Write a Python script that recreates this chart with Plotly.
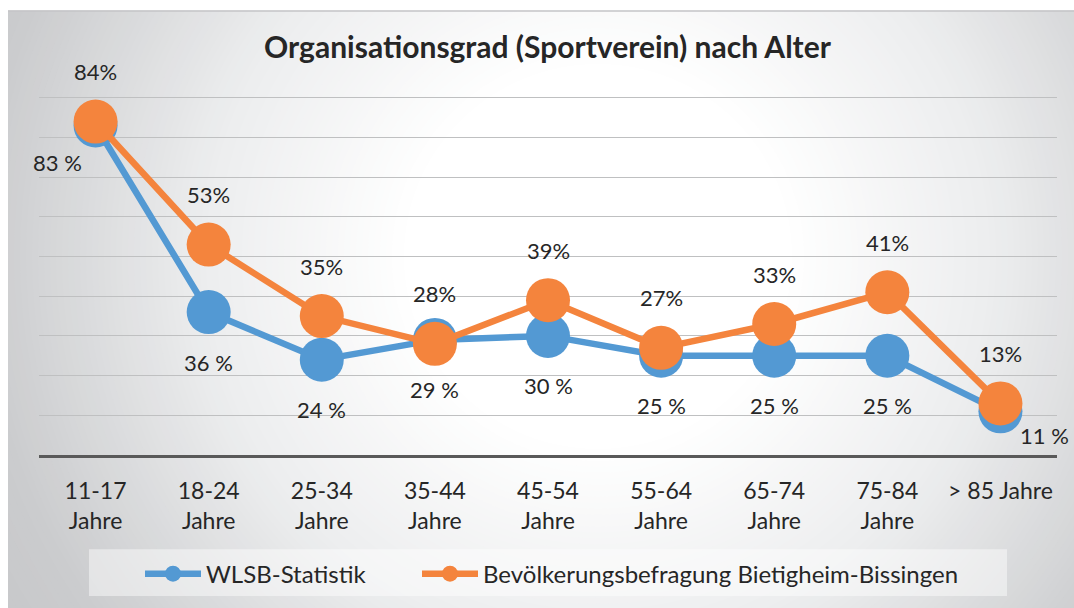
import plotly.graph_objects as go

# ---- data ----
categories = ["11-17<br>Jahre", "18-24<br>Jahre", "25-34<br>Jahre", "35-44<br>Jahre",
              "45-54<br>Jahre", "55-64<br>Jahre", "65-74<br>Jahre", "75-84<br>Jahre",
              "> 85 Jahre"]
wlsb = [83, 36, 24, 29, 30, 25, 25, 25, 11]
befragung = [84, 53, 35, 28, 39, 27, 33, 41, 13]
wlsb_labels = ["83 %", "36 %", "24 %", "29 %", "30 %", "25 %", "25 %", "25 %", "11 %"]
befragung_labels = ["84%", "53%", "35%", "28%", "39%", "27%", "33%", "41%", "13%"]
series_names = ["WLSB-Statistik", "Bevölkerungsbefragung Bietigheim-Bissingen"]
title_text = "Organisationsgrad (Sportverein) nach Alter"

BLUE = "#5399D3"
ORANGE = "#F4843D"
TXT = "#262626"
FONT = "Lato"

# figure fills the whole window (body margin removed via post_script)
W, H = 1074, 608
ML, MR, MT, MB = 39, 17, 62, 150
PW = W - ML - MR
PH = H - MT - MB


def px2paper_x(px):
    return (px - ML) / PW


def px2paper_y(py):
    return (H - MB - py) / PH


# radial-gradient background built from concentric circles
CX, CY = 598, 258
stops = [(0, (255, 255, 255)), (190, (255, 255, 255)), (400, (236, 237, 238)),
         (620, (203, 204, 206)), (800, (194, 195, 197))]


def col_at(r):
    for (r0, c0), (r1, c1) in zip(stops[:-1], stops[1:]):
        if r0 <= r <= r1:
            t = (r - r0) / (r1 - r0) if r1 > r0 else 0
            return "rgb(%d,%d,%d)" % tuple(round(a + (b - a) * t) for a, b in zip(c0, c1))
    return "rgb(%d,%d,%d)" % stops[-1][1]


bg_shapes = []
r = 800
while r >= 190:
    bg_shapes.append(dict(type="circle", xref="paper", yref="paper",
                          x0=px2paper_x(CX - r), x1=px2paper_x(CX + r),
                          y0=px2paper_y(CY + r), y1=px2paper_y(CY - r),
                          fillcolor=col_at(r), line=dict(width=0), layer="below"))
    r -= 6
# white strips left/top of the frame + thin top border
bg_shapes.append(dict(type="rect", xref="paper", yref="paper",
                      x0=px2paper_x(-5), x1=px2paper_x(W + 5), y0=px2paper_y(10), y1=px2paper_y(-5),
                      fillcolor="white", line=dict(width=0), layer="below"))
bg_shapes.append(dict(type="rect", xref="paper", yref="paper",
                      x0=px2paper_x(-5), x1=px2paper_x(8), y0=px2paper_y(H + 5), y1=px2paper_y(-5),
                      fillcolor="white", line=dict(width=0), layer="below"))
bg_shapes.append(dict(type="line", xref="paper", yref="paper",
                      x0=px2paper_x(8), x1=px2paper_x(W + 5), y0=px2paper_y(10.7), y1=px2paper_y(10.7),
                      line=dict(width=1.5, color="#c4c5c7"), layer="below"))
# legend box
bg_shapes.append(dict(type="rect", xref="paper", yref="paper",
                      x0=px2paper_x(89), x1=px2paper_x(1007), y0=px2paper_y(600), y1=px2paper_y(553),
                      fillcolor="rgba(255,255,255,0.45)", line=dict(width=0), layer="below"))

fig = go.Figure()
fig.add_trace(go.Scatter(
    x=categories, y=wlsb, name=series_names[0], mode="lines+markers",
    line=dict(color=BLUE, width=6.5), marker=dict(color=BLUE, size=44),
    hoverinfo="skip", legend="legend"))
fig.add_trace(go.Scatter(
    x=categories, y=befragung, name=series_names[1], mode="lines+markers",
    line=dict(color=ORANGE, width=6.5), marker=dict(color=ORANGE, size=44),
    hoverinfo="skip", legend="legend2"))

annotations = []
for i, c in enumerate(categories):
    annotations.append(dict(x=c, y=befragung[i], xref="x", yref="y", text=befragung_labels[i],
                            showarrow=False, yshift=50, font=dict(family=FONT, size=22, color=TXT)))
    xs, ys = 0, -50
    if i == 0:
        xs, ys = -38, -37
    elif i == len(categories) - 1:
        xs, ys = 44, -24
    annotations.append(dict(x=c, y=wlsb[i], xref="x", yref="y", text=wlsb_labels[i],
                            showarrow=False, xshift=xs, yshift=ys,
                            font=dict(family=FONT, size=22, color=TXT)))

legend_common = dict(orientation="h", xanchor="left", yanchor="middle",
                     y=px2paper_y(578), bgcolor="rgba(0,0,0,0)",
                     font=dict(family=FONT, size=24, color=TXT), itemwidth=56)

fig.update_layout(
    width=W, height=H,
    margin=dict(l=ML, r=MR, t=MT, b=MB),
    paper_bgcolor=col_at(800), plot_bgcolor="rgba(0,0,0,0)",
    title=dict(text="<b>" + title_text + "</b>", x=547.5 / W, xanchor="center",
               y=1 - 47 / H, yanchor="middle", font=dict(family=FONT, size=30, color=TXT)),
    font=dict(family=FONT, color=TXT),
    xaxis=dict(range=[-0.5, len(categories) - 0.5], showgrid=False, showline=True,
               linecolor="#595959", linewidth=3,
               ticks="", tickfont=dict(family=FONT, size=23, color=TXT),
               ticklabelstandoff=13, fixedrange=True),
    yaxis=dict(range=[0, 99], dtick=10, showgrid=True, gridcolor="#bfc0c1", gridwidth=1.3,
               showticklabels=False, zeroline=False, fixedrange=True),
    showlegend=True,
    legend=dict(x=px2paper_x(140), **legend_common),
    legend2=dict(x=px2paper_x(417), **legend_common),
    shapes=bg_shapes,
    annotations=annotations,
)

fig.write_html("out.html",
               config={"displayModeBar": False},
               post_script="document.body.style.margin='0';document.body.style.overflow='hidden';"
                           "document.documentElement.style.overflow='hidden';")
